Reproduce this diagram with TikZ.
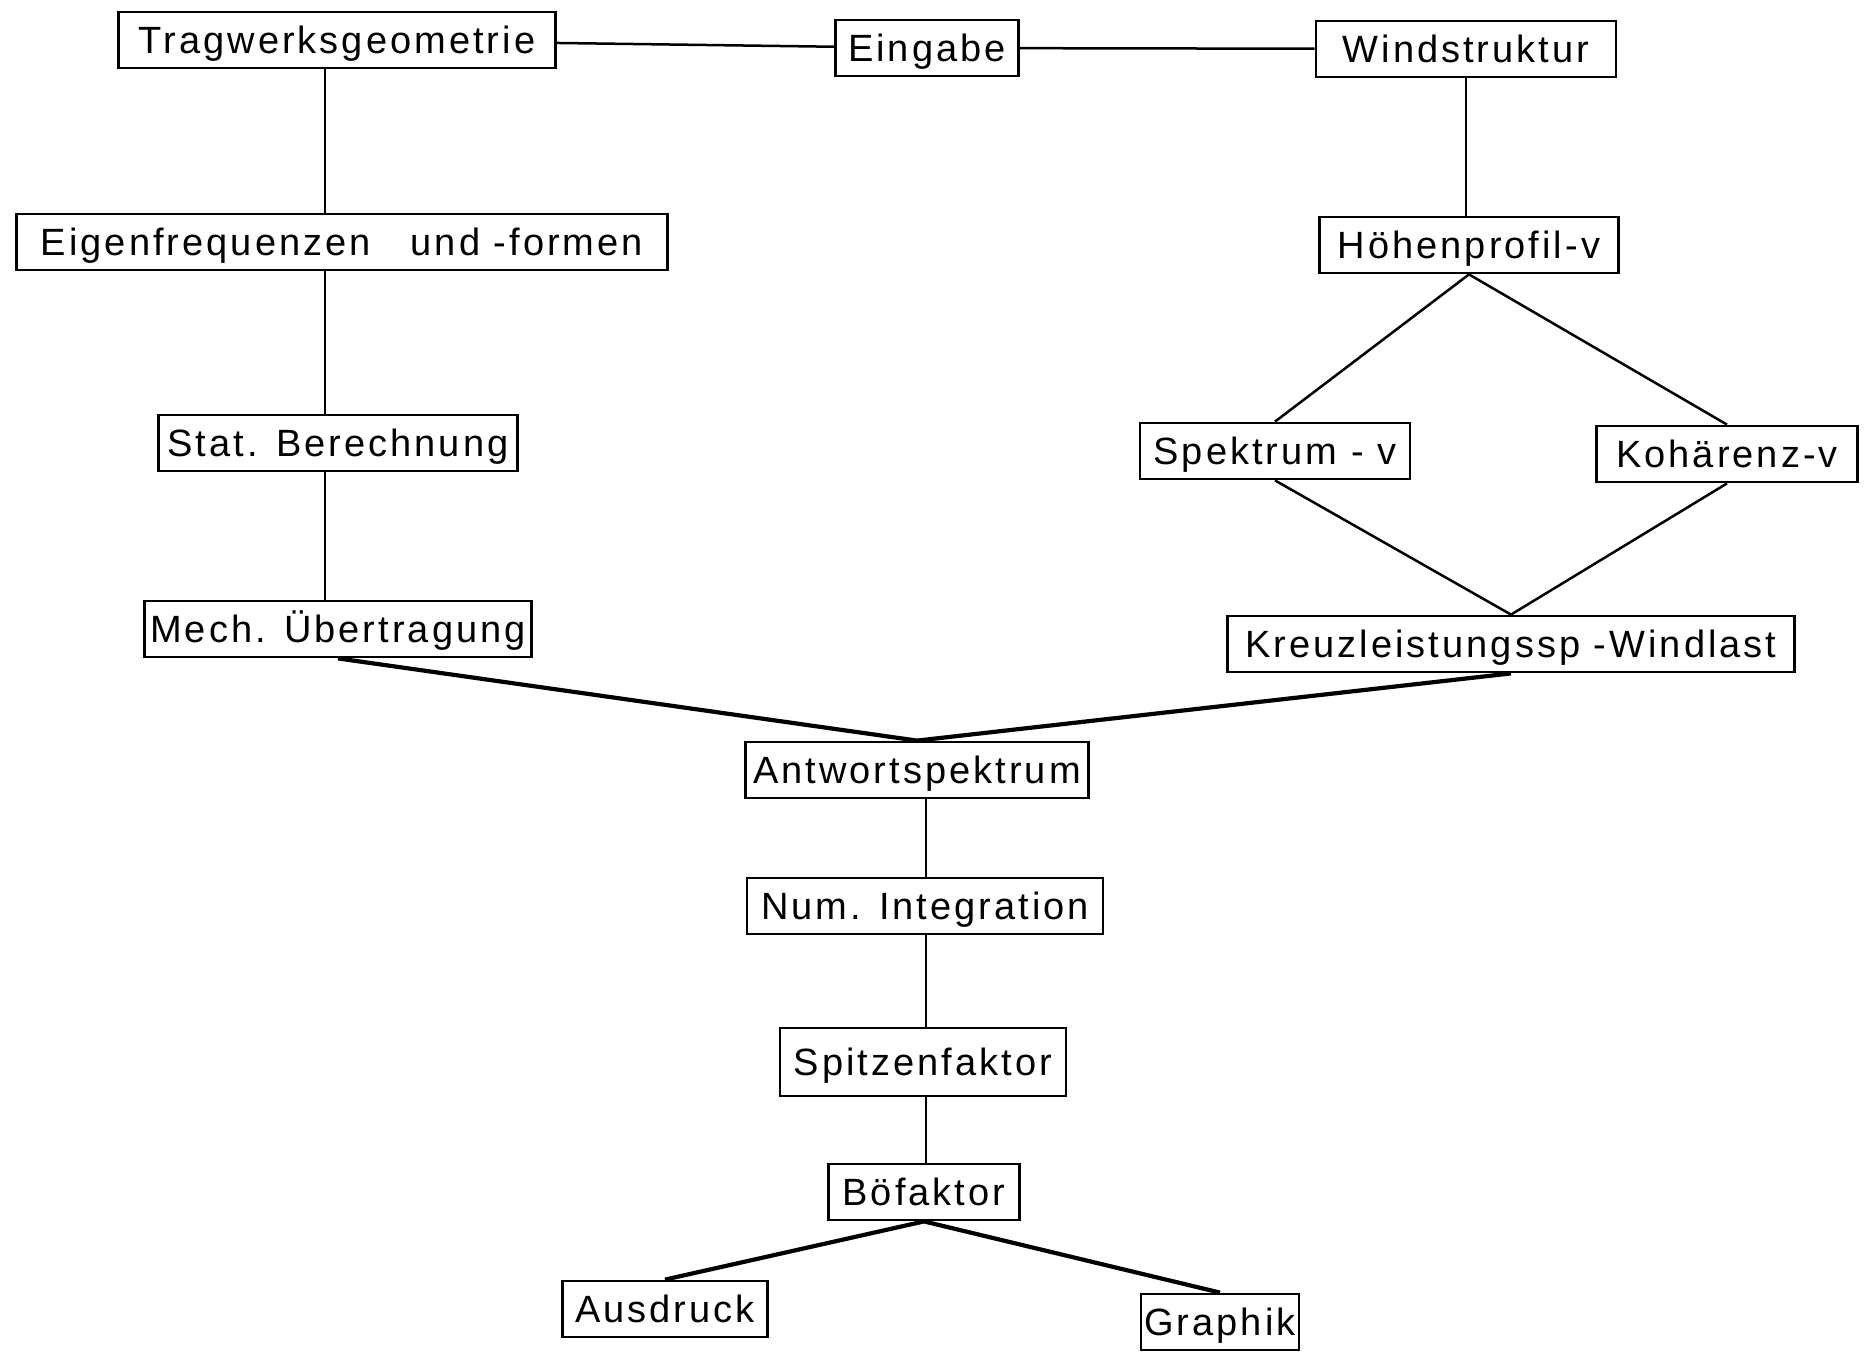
\documentclass[tikz,border=0pt]{standalone}
\usepackage{fontspec}
\setmainfont{Liberation Sans}[LetterSpace=8]
\usetikzlibrary{positioning}
\tikzset{
  block/.style={draw, line width=2.8pt, inner xsep=0pt, inner ysep=14.5pt,
    text height=27pt, text depth=0pt, font=\fontsize{38}{44}\selectfont},
  link/.style={line width=2.5pt, line join=round},
  heavy/.style={line width=4.2pt, line join=round},
}

\begin{document}
\begin{tikzpicture}[x=1pt, y=-1pt]

\useasboundingbox (0,0) rectangle (1864,1354);

% input branch
\node[block, minimum width=437pt] (trag) at (337,40) {Tragwerksgeometrie};
\node[block, minimum width=183pt] (eingabe) at (927,48) {Eingabe};
\node[block, minimum width=300pt] (wind) at (1466,49) {Windstruktur};

% structure side
\node[block, minimum width=651pt] (eigen) at (342,242) {Eigenfrequenzen\hspace{40pt}und -formen};
\node[block, minimum width=359pt] (stat) at (338,443) {Stat. Berechnung};
\node[block, minimum width=387pt] (mech) at (338,629) {Mech. Übertragung};

% wind side
\node[block, minimum width=299pt] (hoehe) at (1469,245) {Höhenprofil-v};
\node[block, minimum width=270pt] (spek) at (1275,451) {Spektrum - v};
\node[block, minimum width=261pt] (koh) at (1727,454) {Kohärenz-v};
\node[block, minimum width=567pt] (kreuz) at (1511,644) {Kreuzleistungssp -Windlast};

% response chain
\node[block, minimum width=343pt] (antwort) at (917,770) {Antwortspektrum};
\node[block, minimum width=356pt] (num) at (925,906) {Num. Integration};
\node[block, minimum width=286pt, minimum height=68pt] (spitze) at (923,1062) {Spitzenfaktor};
\node[block, minimum width=191pt] (boe) at (924,1192) {Böfaktor};
\node[block, minimum width=205pt] (aus) at (665,1309) {Ausdruck};
\node[block, minimum width=158pt] (graph) at (1220,1322) {Graphik};

% vertical spines
\coordinate (lspine) at (325,0);
\coordinate (rspine) at (1466,0);
\coordinate (cspine) at (926,0);

\draw[link] (trag) -- (eingabe) -- (wind);
\draw[link] (trag.south -| lspine) -- (eigen.north -| lspine);
\draw[link] (eigen.south -| lspine) -- (stat.north -| lspine);
\draw[link] (stat.south -| lspine) -- (mech.north -| lspine);
\draw[link] (wind.south -| rspine) -- (hoehe.north -| rspine);
\draw[link] (spek.north) -- (hoehe.south) -- (koh.north);
\draw[link] (spek.south) -- (kreuz.north) -- (koh.south);
\draw[heavy] (mech.south) -- (antwort.north) -- (kreuz.south);
\draw[link] (antwort.south -| cspine) -- (num.north -| cspine);
\draw[link] (num.south -| cspine) -- (spitze.north -| cspine);
\draw[link] (spitze.south -| cspine) -- (boe.north -| cspine);
\draw[heavy] (aus.north) -- (boe.south) -- (graph.north);

\end{tikzpicture}
\end{document}
